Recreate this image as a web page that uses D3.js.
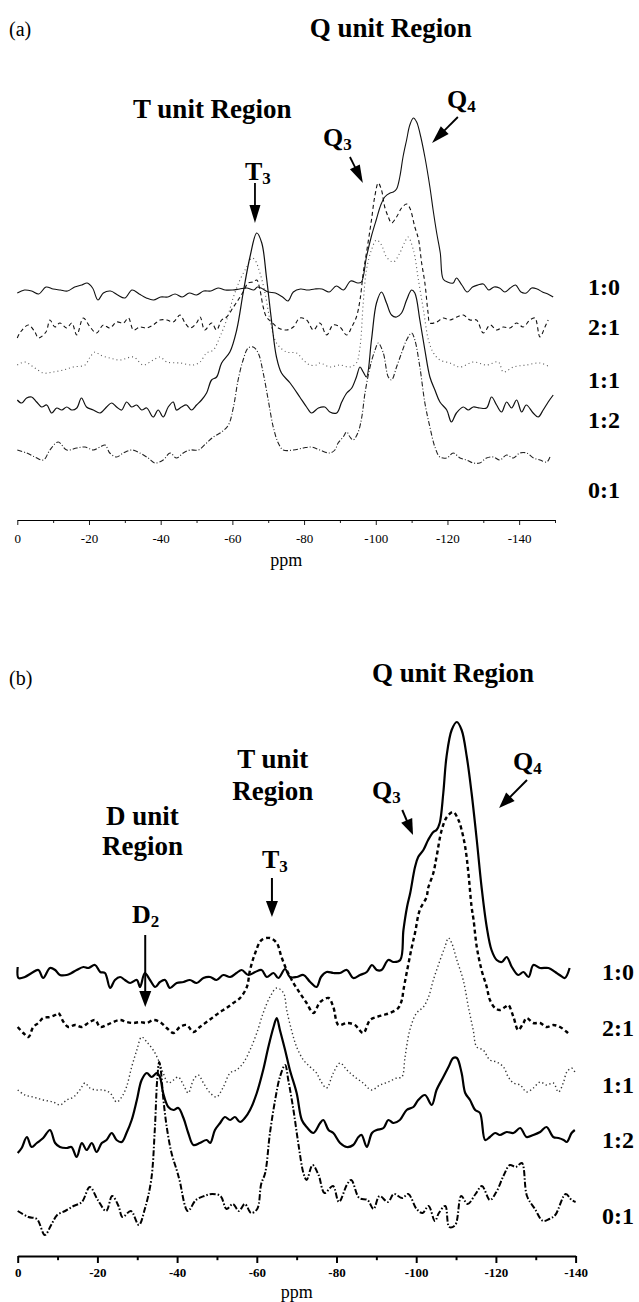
<!DOCTYPE html>
<html>
<head>
<meta charset="utf-8">
<script src="https://cdn.jsdelivr.net/npm/d3@7"></script>
<style>
  body { margin: 0; background: #fff; }
  svg { display: block; }
  svg text { font-family: "Liberation Serif", "Times New Roman", serif; }
</style>
</head>
<body>
<div id="chart"></div>
<script>
// sample ratios, top to bottom
const ratios = ["1:0", "2:1", "1:1", "1:2", "0:1"];

// panel (a) spectra: [ppm, stacked intensity]
const a10 = [[0,226],[-2,229],[-4,228],[-6,225],[-8,232],[-10,230],[-12,229],[-14,228],[-16,232],[-18,234],[-19.5,236],[-21,231],[-22.5,219],[-24,226],[-26,228],[-28,224],[-30,221],[-32,229],[-34,225],[-36,221],[-38,219],[-40,222],[-42,222],[-44,225],[-46,222],[-48,226],[-50,224],[-52,228],[-54,228],[-56,231],[-58,229],[-60,229],[-62,230],[-64,231],[-66,229],[-67,232],[-68,231],[-70,227],[-72,226],[-74,222],[-75.5,218],[-77,227],[-79,230],[-81,229],[-83,230],[-85,230],[-87,227],[-89,233],[-91,229],[-93,238],[-95,236],[-96,237],[-97.4,262],[-98.8,283],[-100.2,300],[-101.4,314],[-102.5,322],[-104,326],[-104.9,327],[-105.8,330],[-106.7,342],[-107.6,362],[-108.6,379],[-109.5,394],[-110.5,401],[-111.4,397],[-112.3,386],[-113.7,362],[-115.1,332],[-116,309],[-117,286],[-118,266],[-118.8,240],[-120,237],[-121.6,236],[-122.5,241],[-124,234],[-125.5,227],[-127,232],[-128.5,234],[-130,235],[-131.5,229],[-133,232],[-134.5,231],[-136,227],[-137.5,231],[-139,234],[-140.5,227],[-142,226],[-143.5,231],[-145,230],[-146.5,227],[-148,225],[-149.5,222]];
const a21 = [[0,181],[-0.9,187],[-3.1,194],[-4.9,187],[-5.9,181],[-8,187],[-9.1,199],[-10.5,192],[-11.9,196],[-13.8,191],[-15.2,196],[-16.6,184],[-18.4,201],[-20.3,192],[-22.1,186],[-24,194],[-25.8,191],[-27.7,197],[-29.6,196],[-31,201],[-32.4,189],[-34.2,192],[-36.1,191],[-37.9,194],[-39.8,199],[-41.7,199],[-43.5,197],[-45.4,204],[-46.8,196],[-48.2,191],[-50,196],[-51,202],[-52.3,189],[-54.2,196],[-55.6,189],[-57,199],[-58.4,202],[-60.3,212],[-61.6,219],[-63,227],[-64.4,236],[-65.8,237],[-66.8,239],[-67.7,229],[-68.6,212],[-69.5,202],[-70.9,197],[-72.8,191],[-75.1,189],[-77,192],[-78.8,201],[-80.7,199],[-82.6,189],[-84.4,196],[-86.3,184],[-88.1,194],[-90,192],[-91.9,184],[-93.3,192],[-94.6,202],[-95.6,219],[-96.5,246],[-97.4,266],[-98.8,299],[-99.7,322],[-100.7,336],[-101.6,329],[-102.5,312],[-103.5,302],[-104.4,296],[-105.8,302],[-107.2,311],[-108.6,315],[-109.5,311],[-110.9,292],[-111.9,280],[-112.8,256],[-113.7,236],[-114.6,206],[-115.1,196],[-117,197],[-118.8,201],[-120.7,199],[-122.6,202],[-124.4,204],[-126.3,199],[-128.1,199],[-130,186],[-131.9,194],[-133.7,189],[-135.6,192],[-137.4,191],[-139.3,196],[-141.1,192],[-143,199],[-144.4,201],[-145.8,182],[-147.2,192],[-148.1,199]];
const a11 = [[0,154],[-2.1,157],[-4.5,152],[-7.3,146],[-10,147],[-12.8,149],[-15.6,152],[-18.9,154],[-20.3,162],[-21.7,167],[-23.1,164],[-25.8,161],[-28.6,159],[-32.4,162],[-35.1,154],[-37.9,159],[-39.8,162],[-41.7,157],[-45.4,156],[-49.1,154],[-51,157],[-52.8,166],[-54.7,169],[-56.5,182],[-58.4,199],[-60.3,222],[-62.1,239],[-64,252],[-65.4,261],[-66.3,259],[-67.7,246],[-69.1,226],[-70.5,199],[-72.3,176],[-75.1,167],[-77.9,166],[-79.8,159],[-81.6,154],[-83.5,154],[-84.4,156],[-87.2,152],[-90,154],[-92.8,152],[-94.6,156],[-95.6,172],[-96.5,216],[-97.4,249],[-98.8,269],[-100.2,279],[-101.6,274],[-103,262],[-104.9,257],[-106.7,266],[-108.1,277],[-109,282],[-110.5,269],[-111.9,239],[-113.3,209],[-114.7,179],[-116.1,166],[-117.9,159],[-120.7,156],[-123.5,152],[-127.2,157],[-130.9,154],[-134.2,157],[-135.6,147],[-138.4,152],[-142.1,154],[-145.8,156],[-148.6,152]];
const a12 = [[0,119],[-1.2,116],[-2.6,121],[-4,122],[-5.4,117],[-6.8,112],[-8.2,114],[-9.6,106],[-11,111],[-12.4,109],[-13.8,112],[-15.2,109],[-16.6,111],[-17.9,121],[-19.3,112],[-21.2,109],[-23.1,106],[-24.9,112],[-26.3,116],[-27.7,112],[-29.1,109],[-30.5,117],[-31.9,112],[-33.3,114],[-34.7,109],[-36.1,111],[-37.9,102],[-39.3,109],[-40.7,102],[-42.1,112],[-43.5,117],[-44.4,109],[-45.8,112],[-47.2,114],[-48.6,109],[-50,114],[-51.4,119],[-52.8,126],[-54.2,139],[-55.6,142],[-57,156],[-59.3,167],[-61.2,189],[-63,226],[-64.9,262],[-66.8,286],[-68.2,276],[-69.5,242],[-70.9,199],[-72.3,162],[-73.7,146],[-76.1,136],[-78.8,122],[-80.7,112],[-82.1,106],[-84,111],[-85.8,112],[-87.2,107],[-89.1,106],[-90.5,117],[-91.9,126],[-93.3,131],[-94.6,142],[-95.6,152],[-96.5,147],[-97.4,142],[-98.8,179],[-100.2,216],[-101.6,227],[-103,216],[-104.4,204],[-105.8,202],[-107.2,206],[-108.6,219],[-110,229],[-110.9,226],[-112.3,199],[-113.7,169],[-115.1,142],[-116.5,129],[-117.9,117],[-119.8,109],[-121.1,97],[-122.5,106],[-124.4,112],[-125.8,109],[-127.2,112],[-129,111],[-130.9,111],[-132.3,122],[-133.7,114],[-135.1,107],[-136.5,117],[-137.9,111],[-139.3,119],[-140.7,107],[-142,114],[-143.9,106],[-145.3,102],[-146.7,109],[-148.1,117],[-149.5,124]];
const a01 = [[0,69],[-2.6,66],[-4.9,62],[-7.3,59],[-9.1,69],[-11.4,77],[-13.8,69],[-16.6,71],[-18.9,72],[-21.2,69],[-23.1,72],[-24.5,74],[-25.8,66],[-27.7,62],[-29.6,66],[-31.9,69],[-34.2,66],[-36.5,61],[-38.4,56],[-40.7,59],[-42.6,66],[-44.4,61],[-46.3,66],[-48.2,69],[-50.5,69],[-52.8,76],[-54.7,82],[-57,87],[-58.9,94],[-60.3,112],[-61.6,139],[-63,159],[-64.4,171],[-65.8,172],[-67.2,166],[-68.6,146],[-70,119],[-71.4,92],[-72.8,76],[-74.2,69],[-77,69],[-79.8,71],[-82.1,72],[-84.4,69],[-87.2,66],[-88.6,69],[-89.5,76],[-90.9,82],[-91.9,87],[-92.8,82],[-93.7,79],[-95.1,87],[-96.1,102],[-97,126],[-98.4,152],[-99.8,169],[-100.7,176],[-102.1,166],[-103.5,142],[-104.4,139],[-105.8,152],[-107.2,166],[-108.6,179],[-110,186],[-110.9,179],[-112.3,152],[-113.7,116],[-115.1,92],[-116.5,72],[-117.9,62],[-119.8,61],[-121.6,66],[-123.5,61],[-125.3,59],[-127.2,56],[-129,56],[-130.9,61],[-132.8,62],[-134.6,59],[-136.5,64],[-138.4,61],[-140.2,66],[-142.1,66],[-144,61],[-145.8,59],[-147.7,57],[-148.6,62]];

// panel (b) spectra: [ppm, stacked intensity]
const b10 = [[0,288],[-0.2,277],[-1.8,278],[-3.5,282],[-5.2,285],[-6.4,277],[-8.1,287],[-9.4,285],[-10.6,280],[-12.3,280],[-13.5,282],[-14.8,285],[-16.5,288],[-17.7,287],[-19.4,290],[-20.7,283],[-21.9,282],[-23.2,267],[-24.4,275],[-25.7,278],[-26.9,275],[-28.2,272],[-29.9,275],[-30.7,268],[-31.9,282],[-33.2,275],[-34.5,268],[-35.7,273],[-37,275],[-38.2,267],[-39.9,272],[-41.6,273],[-43.2,275],[-44.9,272],[-46.6,277],[-48.3,278],[-49.9,275],[-51.6,280],[-53.3,278],[-54.9,282],[-56.2,285],[-57.9,280],[-59.6,283],[-61.2,285],[-62.5,278],[-64.2,282],[-65.4,277],[-67.1,286],[-68.3,278],[-70,278],[-71.7,280],[-73.4,273],[-75,268],[-76.1,278],[-77.5,283],[-79.2,282],[-80.9,282],[-82.6,285],[-84.2,277],[-85.9,280],[-87.6,283],[-88.9,290],[-90.1,285],[-91.3,285],[-93,295],[-94.3,293],[-96,295],[-96.8,325],[-97.7,348],[-98.5,362],[-99.7,388],[-100.5,398],[-101.8,405],[-103,415],[-104.3,423],[-105.1,425],[-105.9,432],[-106.8,462],[-107.6,498],[-108.9,525],[-110.2,533],[-111.4,525],[-112.7,498],[-113.9,462],[-115.2,415],[-116.4,368],[-117.7,328],[-118.9,305],[-120.2,295],[-121.5,293],[-122.7,298],[-124,288],[-125.6,280],[-126.9,283],[-128.2,278],[-129.4,290],[-131.1,287],[-133.2,287],[-134.9,283],[-136,280],[-137.3,277],[-138.5,287]];
const b21 = [[0,228],[-1.4,222],[-2.7,218],[-3.9,228],[-5.2,232],[-6.4,237],[-8.1,238],[-9.4,240],[-10.2,242],[-11.5,233],[-12.7,228],[-14.4,230],[-16.1,228],[-17.7,232],[-19.4,235],[-20.7,228],[-22.3,230],[-24,233],[-25.7,235],[-27.3,233],[-29,232],[-30.7,233],[-32.4,232],[-34,235],[-35.7,233],[-37.4,227],[-39.1,222],[-40.7,228],[-42.4,230],[-44.1,223],[-45.7,228],[-47.4,233],[-49.1,238],[-50.8,243],[-52.4,247],[-54.1,252],[-55.8,257],[-57.5,268],[-58.3,285],[-59.6,302],[-61.2,315],[-63.3,317],[-65,312],[-66.2,298],[-67.5,285],[-69.2,272],[-70.8,262],[-72.5,252],[-74.2,242],[-75.9,253],[-78,257],[-79.2,248],[-80.5,230],[-82.6,232],[-84.6,230],[-86.7,222],[-88.4,235],[-90.1,238],[-91.8,240],[-93.4,242],[-95.5,247],[-96.4,255],[-96.8,265],[-97.6,282],[-98.9,308],[-99.7,322],[-100.9,345],[-102.6,358],[-103,367],[-104.3,382],[-105.1,398],[-106.4,425],[-107.7,438],[-109.3,443],[-110.6,435],[-111.4,425],[-112.3,408],[-113.1,382],[-113.9,348],[-114.4,335],[-115.2,308],[-116.4,285],[-117.7,268],[-118.5,255],[-119.8,247],[-121,245],[-122.3,248],[-123.1,250],[-124.4,238],[-125.6,225],[-126.9,232],[-127.7,237],[-129.4,232],[-131.1,232],[-132.7,228],[-134.4,230],[-136.1,228],[-137.8,223],[-138.6,220]];
const b11 = [[0,165],[-1.8,160],[-3.9,158],[-6.4,155],[-8.9,153],[-10.6,150],[-12.3,155],[-14,158],[-15.6,165],[-16.9,172],[-18.1,167],[-19.8,165],[-21.5,165],[-23.2,162],[-24.8,153],[-26.1,158],[-27.3,168],[-28.6,188],[-29.9,205],[-31.1,218],[-32.4,213],[-34,205],[-35.3,195],[-36.5,182],[-37.8,172],[-39.1,175],[-40.3,178],[-41.6,170],[-42.8,162],[-44.1,175],[-45.3,180],[-46.6,172],[-48.3,162],[-49.9,158],[-51.6,168],[-53.3,182],[-54.9,185],[-56.6,192],[-58.3,205],[-60,222],[-61.6,242],[-63.3,258],[-65,267],[-66.7,262],[-67.5,245],[-68.7,225],[-70,208],[-71.7,195],[-73.4,188],[-75,182],[-75.9,175],[-77.5,167],[-79.2,182],[-80.9,192],[-82.6,185],[-84.6,178],[-86.7,172],[-88.8,165],[-90.9,170],[-93,173],[-95.1,177],[-96.4,178],[-97.2,198],[-98.4,225],[-100.1,242],[-101.8,248],[-103.1,258],[-104.3,275],[-106,295],[-107.2,308],[-108.1,317],[-108.9,312],[-110.2,295],[-111.8,275],[-113.1,248],[-114.3,225],[-115.2,208],[-116.8,205],[-118.5,195],[-120.2,193],[-121.9,188],[-123.1,178],[-124.4,172],[-126.1,170],[-127.7,163],[-129.4,167],[-131.1,173],[-132.7,170],[-134.4,172],[-135.7,163],[-136.9,172],[-137.8,183],[-139,187],[-139.8,183]];
const b12 = [[0,102],[-1,107],[-2.3,118],[-3.5,108],[-4.8,112],[-6.4,117],[-8.1,125],[-9.4,112],[-10.6,108],[-12.3,107],[-13.5,108],[-14.8,98],[-16.1,112],[-17.3,105],[-18.6,112],[-19.8,103],[-21.1,112],[-22.3,115],[-23.6,122],[-24.8,115],[-26.1,113],[-27.3,122],[-28.6,135],[-29.9,155],[-31.1,175],[-32.4,182],[-33.6,178],[-34.9,182],[-35.7,178],[-36.5,162],[-37.8,148],[-39.1,145],[-40.3,147],[-41.6,137],[-42.8,122],[-44.1,110],[-45.7,112],[-47.4,115],[-48.3,112],[-49.5,125],[-50.8,132],[-52,138],[-53.3,135],[-54.5,138],[-55.8,133],[-57,137],[-58.3,145],[-60,162],[-61.6,185],[-62.9,208],[-64.2,228],[-65,237],[-65.8,225],[-67.1,205],[-68.3,185],[-70,162],[-71.3,135],[-72.5,128],[-74.2,122],[-75.9,132],[-76.7,135],[-78,125],[-79.2,122],[-80.9,112],[-82.6,108],[-84.2,110],[-85.5,118],[-86.3,120],[-87.6,108],[-88.9,122],[-90.1,125],[-91.8,127],[-93,135],[-94.3,132],[-95.9,135],[-97.6,145],[-99.3,148],[-100.5,155],[-102.2,160],[-103.9,150],[-105.1,165],[-106.8,178],[-108.1,188],[-109.3,197],[-110.2,197],[-111.4,182],[-112.3,162],[-113.5,155],[-114.8,145],[-116,142],[-117.3,115],[-118.5,118],[-119.8,122],[-121,120],[-122.7,123],[-124.4,122],[-126.1,127],[-127.7,118],[-129.4,120],[-131.1,123],[-132.7,128],[-134.4,118],[-135.7,117],[-137,115],[-137.8,113],[-139,122],[-139.8,125]];
const b01 = [[0,44],[-2.7,38],[-4.8,36],[-6.8,20],[-8.4,30],[-9.9,40],[-11.9,44],[-14,49],[-16.1,53],[-18.1,68],[-20.1,55],[-22.2,44],[-23.7,59],[-25.3,49],[-26.3,38],[-28.4,44],[-30.4,30],[-31.9,46],[-33.5,75],[-34.4,125],[-35,175],[-35.5,193],[-35.9,185],[-36.5,158],[-37.4,128],[-38.6,102],[-39.9,85],[-40.6,75],[-42.7,44],[-44.7,55],[-46.8,59],[-48.8,61],[-50.9,59],[-52.4,46],[-54,51],[-55.5,44],[-57,51],[-58.6,42],[-60.1,46],[-61.1,71],[-62.1,82],[-63.3,122],[-64.6,155],[-65.8,178],[-67.1,190],[-67.9,175],[-69.2,145],[-70.4,112],[-71.7,82],[-72.5,75],[-74,90],[-75.5,80],[-77,62],[-79.1,69],[-80.6,53],[-82.7,71],[-83.7,75],[-85.7,57],[-87.8,55],[-89.3,46],[-90.8,59],[-92.9,53],[-94.4,61],[-96.5,57],[-98,61],[-100.1,46],[-101.6,42],[-103.1,49],[-104.7,34],[-105.7,42],[-107.3,49],[-108.3,28],[-109.8,30],[-111.3,59],[-112.9,51],[-114.9,61],[-116.5,69],[-118.5,55],[-120.1,63],[-122,80],[-123.5,90],[-125,88],[-126.5,92],[-127.8,59],[-129.8,46],[-131.8,34],[-133.4,36],[-134.9,40],[-137.5,61],[-139,55],[-140,53]];

// where each ratio label sits (stacked intensity)
const ratioPosA = [224, 184, 131, 91, 21];
const ratioPosB = [275, 219, 162, 107, 31];

// axis ticks
const ticksA = d3.range(0, -151, -10);
const ticksB = d3.range(0, -141, -10);

// region titles and peak tags, in [ppm, intensity]
const titlesA = [
  {text: "T unit Region", ppm: -32.3, v: 401, anchor: "start"},
  {text: "Q unit Region", ppm: -81.6, v: 482, anchor: "start"}
];
const titlesB = [
  {text: "Q unit Region", ppm: -88.9, v: 573, anchor: "start"},
  {text: "T unit", ppm: -64, v: 487, anchor: "middle"},
  {text: "Region", ppm: -64, v: 455, anchor: "middle"},
  {text: "D unit", ppm: -31.3, v: 430, anchor: "middle"},
  {text: "Region", ppm: -31.3, v: 400, anchor: "middle"}
];
const tagsA = [
  {main: "T", sub: "3", ppm: -63.5, v: 339},
  {main: "Q", sub: "3", ppm: -85.3, v: 373},
  {main: "Q", sub: "4", ppm: -119.9, v: 411}
];
const tagsB = [
  {main: "T", sub: "3", ppm: -61.3, v: 387},
  {main: "D", sub: "2", ppm: -28.7, v: 332},
  {main: "Q", sub: "3", ppm: -88.9, v: 456},
  {main: "Q", sub: "4", ppm: -124.3, v: 485}
];
const arrowsA = [
  {p1: -66.3, v1: 336, p2: -66.3, v2: 296},
  {p1: -92.8, v1: 362, p2: -96.4, v2: 336},
  {p1: -122.9, v1: 402, p2: -115.7, v2: 376}
];
const arrowsB = [
  {p1: -63.8, v1: 377, p2: -63.8, v2: 338},
  {p1: -32.0, v1: 320, p2: -32.0, v2: 248},
  {p1: -96.5, v1: 445, p2: -99.2, v2: 420},
  {p1: -127.8, v1: 475, p2: -120.8, v2: 447}
];

const W = 639, H = 1302;
const FONT = "Liberation Serif";
const svg = d3.select("#chart").append("svg")
    .attr("width", W)
    .attr("height", H)
    .attr("font-family", FONT);

function drawArrow(g, x1, y1, x2, y2, len, wid, sw) {
    let dx = x2 - x1, dy = y2 - y1;
    let d = Math.sqrt(dx * dx + dy * dy);
    let ux = dx / d, uy = dy / d;
    let bx = x2 - ux * len, by = y2 - uy * len;
    g.append("line")
        .attr("x1", x1).attr("y1", y1)
        .attr("x2", bx + ux * 2).attr("y2", by + uy * 2)
        .attr("stroke", "#000").attr("stroke-width", sw);
    g.append("path")
        .attr("d", `M${x2},${y2}L${bx - uy * wid / 2},${by + ux * wid / 2}L${bx + uy * wid / 2},${by - ux * wid / 2}Z`)
        .attr("fill", "#000");
}

function drawPanel(cfg) {
    let g = svg.append("g");
    let x = cfg.x, y = cfg.y;

    // spectra
    let line = d3.line()
        .x(d => x(d[0]))
        .y(d => y(d[1]))
        .curve(d3.curveCatmullRom.alpha(0.5));

    cfg.series.forEach((s, i) => {
        let st = cfg.styles[i];
        g.append("path")
            .datum(s)
            .attr("d", line)
            .attr("fill", "none")
            .attr("stroke", st.color)
            .attr("stroke-width", st.width)
            .attr("stroke-dasharray", st.dash)
            .attr("stroke-linejoin", "round");
    });

    // x axis
    let axis = d3.axisBottom(x)
        .tickValues(cfg.ticks)
        .tickSize(cfg.tickLen)
        .tickSizeOuter(0)
        .tickFormat(d => d % 20 === 0 ? d : "");
    let ag = g.append("g")
        .attr("transform", `translate(0,${cfg.axisY})`)
        .call(axis)
        .attr("font-family", FONT)
        .attr("font-size", cfg.labelSize);
    ag.select(".domain").attr("stroke-width", cfg.axisWidth);
    ag.selectAll(".tick line").attr("stroke-width", cfg.axisWidth * 0.9);
    ag.selectAll(".tick")
        .filter(d => d % 20 !== 0)
        .select("line").attr("y2", cfg.tickLen * 0.6);
    ag.selectAll(".tick text")
        .attr("y", cfg.labelY)
        .attr("dy", null)
        .attr("font-family", FONT)
        .attr("font-size", cfg.labelSize)
        .attr("font-weight", cfg.labelWeight);

    g.append("text")
        .attr("x", (x.range()[0] + x.range()[1]) / 2)
        .attr("y", cfg.axisY + cfg.ppmY)
        .attr("text-anchor", "middle")
        .attr("font-family", FONT)
        .attr("font-size", 18)
        .text("ppm");

    // panel letter
    g.append("text")
        .attr("x", 9)
        .attr("y", cfg.letterY)
        .attr("font-family", FONT)
        .attr("font-size", 20)
        .text(cfg.letter);

    // region titles
    cfg.titles.forEach(t => {
        g.append("text")
            .attr("x", x(t.ppm))
            .attr("y", y(t.v))
            .attr("text-anchor", t.anchor)
            .attr("font-family", FONT)
            .attr("font-size", 27)
            .attr("font-weight", "bold")
            .text(t.text);
    });

    // peak tags
    cfg.tags.forEach(t => {
        let tx = g.append("text")
            .attr("x", x(t.ppm))
            .attr("y", y(t.v))
            .attr("font-family", FONT)
            .attr("font-weight", "bold");
        tx.append("tspan").attr("font-size", 26).text(t.main);
        tx.append("tspan").attr("font-size", 17).attr("dy", 4).text(t.sub);
    });

    cfg.arrows.forEach(a => {
        drawArrow(g, x(a.p1), y(a.v1), x(a.p2), y(a.v2), cfg.headLen, cfg.headWid, cfg.shaft);
    });

    // ratio labels
    ratios.forEach((r, i) => {
        g.append("text")
            .attr("x", cfg.ratioX)
            .attr("y", y(cfg.ratioPos[i]))
            .attr("font-family", FONT)
            .attr("font-size", 24)
            .attr("font-weight", "bold")
            .text(r);
    });
}

drawPanel({
    x: d3.scaleLinear().domain([0, -150]).range([17.3, 555]),
    y: d3.scaleLinear().domain([0, 500]).range([519, 19]),
    series: [a10, a21, a11, a12, a01],
    styles: [
        {color: "#111", width: 1.1, dash: null},
        {color: "#111", width: 1.1, dash: "4,3"},
        {color: "#555", width: 1.1, dash: "1,3"},
        {color: "#111", width: 1.2, dash: null},
        {color: "#222", width: 1.1, dash: "5,2,1,2"}
    ],
    ticks: ticksA, tickLen: 5, axisY: 520, axisWidth: 1,
    labelY: 23, labelSize: 13, labelWeight: "normal", ppmY: 46,
    letter: "(a)", letterY: 36,
    titles: titlesA, tags: tagsA, arrows: arrowsA,
    headLen: 18, headWid: 11, shaft: 1.8,
    ratioX: 588, ratioPos: ratioPosA
});

drawPanel({
    x: d3.scaleLinear().domain([0, -140]).range([17.7, 575.6]),
    y: d3.scaleLinear().domain([0, 600]).range([1255, 655]),
    series: [b10, b21, b11, b12, b01],
    styles: [
        {color: "#000", width: 2.2, dash: null},
        {color: "#000", width: 2.4, dash: "4,3"},
        {color: "#333", width: 1.4, dash: "1.3,2.6"},
        {color: "#000", width: 2.2, dash: null},
        {color: "#000", width: 2, dash: "6,2,1.5,2"}
    ],
    ticks: ticksB, tickLen: 7, axisY: 1256, axisWidth: 2.2,
    labelY: 21, labelSize: 13, labelWeight: "bold", ppmY: 42,
    letter: "(b)", letterY: 685,
    titles: titlesB, tags: tagsB, arrows: arrowsB,
    headLen: 16, headWid: 12, shaft: 2,
    ratioX: 602, ratioPos: ratioPosB
});
</script>
</body>
</html>
